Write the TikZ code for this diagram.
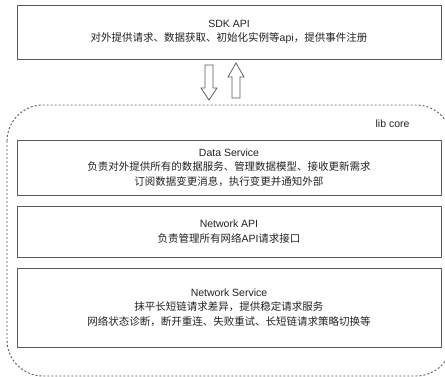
\documentclass[tikz,border=0pt]{standalone}
\usepackage{fontspec}
\setmainfont{Liberation Sans}
\newfontfamily\cjk{Noto Sans CJK SC}
\definecolor{edge}{HTML}{5A5A5A}
\definecolor{ink}{HTML}{222222}
\begin{document}
\begin{tikzpicture}[x=1pt,y=-1pt,
  layerbox/.style={draw=edge, line width=0.9pt, fill=white, inner sep=0pt, align=center,
    text=ink, font=\fontsize{10.5}{14.5}\selectfont},
  hollowarrow/.style={draw=edge, line width=0.8pt, fill=white, line join=miter},
  corebox/.style={draw=edge, line width=0.9pt, dash pattern=on 2pt off 2pt, rounded corners=36pt}]
\clip (0,0) rectangle (445,377);
\useasboundingbox (0,0) rectangle (445,377);
% lib core container
\draw[corebox] (7,105) rectangle (452,376);
\node[text=ink, font=\fontsize{10.5}{12}\selectfont, anchor=east] (libcore) at (413,124) {lib core};
% SDK API
\node[layerbox, minimum width=424pt, minimum height=54pt] (sdk) at (229,32)
  {SDK API\\{\cjk 对外提供请求、数据获取、初始化实例等}api{\cjk ，提供事件注册}};
% Data Service
\node[layerbox, minimum width=424pt, minimum height=55pt] (data) at (229,167.5)
  {Data Service\\{\cjk 负责对外提供所有的数据服务、管理数据模型、接收更新需求}\\{\cjk 订阅数据变更消息，执行变更并通知外部}};
% Network API
\node[layerbox, minimum width=424pt, minimum height=51pt] (napi) at (229,231.5)
  {Network API\\{\cjk 负责管理所有网络}API{\cjk 请求接口}};
% Network Service
\node[layerbox, minimum width=424pt, minimum height=79pt] (nsvc) at (229,307.5)
  {Network Service\\{\cjk 抹平长短链请求差异，提供稳定请求服务}\\{\cjk 网络状态诊断，断开重连、失败重试、长短链请求策略切换等}};
% hollow arrows
\draw[hollowarrow] (205,65) -- (213,65) -- (213,88) -- (217,88) -- (209,100) -- (201,88) -- (205,88) -- cycle;
\draw[hollowarrow] (232,98) -- (240,98) -- (240,77) -- (244,77) -- (236,63) -- (228,77) -- (232,77) -- cycle;
\end{tikzpicture}
\end{document}
